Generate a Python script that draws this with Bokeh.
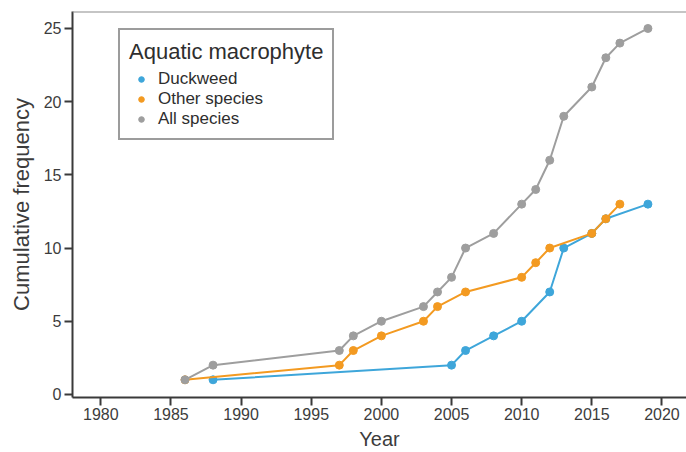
from bokeh.plotting import figure
from bokeh.models import Range1d, Legend, LegendItem, Span, FixedTicker
from bokeh.embed import file_html
from bokeh.resources import INLINE

# Cumulative number of records per year
duck_years = [1988, 2005, 2006, 2008, 2010, 2012, 2013, 2015, 2016, 2019]
duck_counts = [1, 2, 3, 4, 5, 7, 10, 11, 12, 13]

other_years = [1986, 1997, 1998, 2000, 2003, 2004, 2006, 2010, 2011, 2012, 2015, 2016, 2017]
other_counts = [1, 2, 3, 4, 5, 6, 7, 8, 9, 10, 11, 12, 13]

all_years = [1986, 1988, 1997, 1998, 2000, 2003, 2004, 2005, 2006, 2008,
             2010, 2011, 2012, 2013, 2015, 2016, 2017, 2019]
all_counts = [1, 2, 3, 4, 5, 6, 7, 8, 10, 11, 13, 14, 16, 19, 21, 23, 24, 25]

year_ticks = [1980, 1985, 1990, 1995, 2000, 2005, 2010, 2015, 2020]
count_ticks = [0, 5, 10, 15, 20, 25]

series_names = ["Duckweed", "Other species", "All species"]
series_colors = ["#3ea6da", "#f39a21", "#9e9e9e"]

FONT = "'Liberation Sans', Arial, sans-serif"
AXIS_COLOR = "#3a3a3a"
TEXT_COLOR = "#3c3c3c"

p = figure(
    width=686, height=452,
    output_backend="svg", toolbar_location=None,
    x_range=Range1d(1977.98, 2021.75),
    y_range=Range1d(-0.21, 26.16),
    min_border_left=72, min_border_right=0,
    min_border_top=11, min_border_bottom=55,
)
p.outline_line_color = None
p.grid.visible = False
p.background_fill_color = "white"
p.border_fill_color = "white"

# axes
p.xaxis.ticker = FixedTicker(ticks=year_ticks)
p.yaxis.ticker = FixedTicker(ticks=count_ticks)
p.xaxis.axis_label = "Year"
p.yaxis.axis_label = "Cumulative frequency"
for ax in (p.xaxis, p.yaxis):
    ax.axis_line_color = AXIS_COLOR
    ax.axis_line_width = 2
    ax.major_tick_line_color = AXIS_COLOR
    ax.major_tick_line_width = 2
    ax.major_tick_in = 0
    ax.major_tick_out = 8
    ax.minor_tick_line_color = None
    ax.major_label_text_font = FONT
    ax.major_label_text_font_size = "16px"
    ax.major_label_text_color = TEXT_COLOR
    ax.axis_label_text_font = FONT
    ax.axis_label_text_font_style = "normal"
    ax.axis_label_text_color = TEXT_COLOR
p.xaxis.axis_label_text_font_size = "20px"
p.yaxis.axis_label_text_font_size = "22px"
p.xaxis.major_label_standoff = 2
p.xaxis.axis_label_standoff = 5
p.yaxis.major_label_standoff = 3
p.yaxis.axis_label_standoff = 7

# top frame line
p.add_layout(Span(location=26.16, dimension="width", line_color="#8c8c8c", line_width=2))

# series, drawn so that the totals sit on top
data = [(duck_years, duck_counts), (other_years, other_counts), (all_years, all_counts)]
legend_items = []
for (xs, ys), name, color in zip(data, series_names, series_colors):
    p.line(xs, ys, line_color=color, line_width=2)
    dots = p.scatter(xs, ys, size=8, fill_color=color, line_color=color)
    legend_items.append(LegendItem(label=name, renderers=[dots]))

legend = Legend(
    items=legend_items,
    title="Aquatic macrophyte",
    location=(46, 257),
    padding=9,
    spacing=0,
    glyph_width=24, glyph_height=14,
    label_height=16,
    label_standoff=5,
    border_line_color="#3a3a3a",
    border_line_width=2,
    background_fill_alpha=1,
    title_text_font=FONT,
    title_text_font_size="22px",
    title_text_font_style="normal",
    title_text_color="#2e2e2e",
    title_standoff=4,
    label_text_font=FONT,
    label_text_font_size="17px",
    label_text_color="#2e2e2e",
)
p.add_layout(legend)

open("out.html", "w").write(file_html(p, INLINE))
